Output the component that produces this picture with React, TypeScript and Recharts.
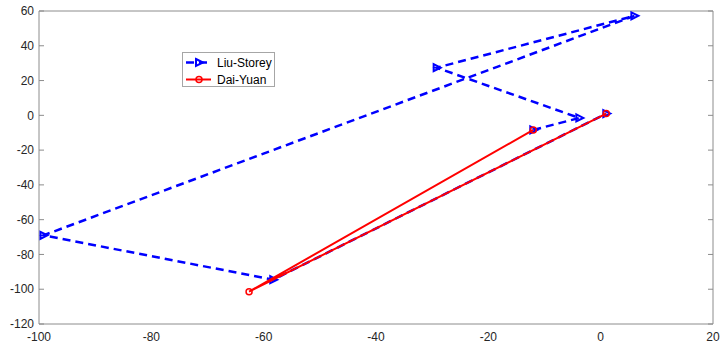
import {
  ScatterChart,
  Scatter,
  XAxis,
  YAxis,
  Legend,
} from 'recharts';

// iterates
const liuStoreyX = [-12, -3.8, -29.2, 6.0, -99.2, -58.3, 1];
const liuStoreyY = [-8.4, -1.5, 27.4, 57.2, -69.0, -94.5, 1];
const daiYuanX = [-12, -62.6, 1];
const daiYuanY = [-8.4, -101.4, 1];

const xTicks = [-100, -80, -60, -40, -20, 0, 20];
const yTicks = [-120, -100, -80, -60, -40, -20, 0, 20, 40, 60];

const liuStorey = liuStoreyX.map((x, i) => ({x, y: liuStoreyY[i]}));
const daiYuan = daiYuanX.map((x, i) => ({x, y: daiYuanY[i]}));

const BLUE = '#0000ff';
const RED = '#ff0000';
const AXIS = '#8c8c8c';
const FONT = '"Liberation Sans", Arial, sans-serif';

const TriangleMarker = (props: any) => {
  const {cx, cy} = props;
  if (cx == null || cy == null) return null;
  return (
    <polygon
      points={`${cx - 3},${cy - 3.5} ${cx + 4},${cy} ${cx - 3},${cy + 3.5}`}
      fill="none"
      stroke={BLUE}
      strokeWidth={2}
    />
  );
};

const CircleMarker = (props: any) => {
  const {cx, cy} = props;
  if (cx == null || cy == null) return null;
  return <circle cx={cx} cy={cy} r={3} fill="none" stroke={RED} strokeWidth={1.5} />;
};

const renderLegend = () => (
  <svg width={93} height={35} style={{display: 'block'}}>
    <rect x={0.5} y={0.5} width={92} height={34} fill="#fff" stroke="#a6a6a6" />
    <line x1={4} x2={29} y1={10.5} y2={10.5} stroke={BLUE} strokeWidth={2.5} strokeDasharray="8 5" />
    <TriangleMarker cx={17} cy={10.5} />
    <text x={35} y={14.5} fontSize={12} fontFamily={FONT} fill="#000">
      Liu-Storey
    </text>
    <line x1={4} x2={29} y1={27.5} y2={27.5} stroke={RED} strokeWidth={2} />
    <CircleMarker cx={17} cy={27.5} />
    <text x={35} y={31.5} fontSize={12} fontFamily={FONT} fill="#000">
      Dai-Yuan
    </text>
  </svg>
);

const blank = () => '';

export default function App() {
  return (
    <div style={{position: 'absolute', left: 0, top: 0, background: '#fff'}}>
      <ScatterChart
        width={721}
        height={349}
        margin={{top: 11, right: 8, bottom: 0, left: 0}}
      >
        {/* labelled axes */}
        <XAxis
          xAxisId={0}
          type="number"
          dataKey="x"
          domain={[-100, 20]}
          ticks={xTicks}
          allowDataOverflow
          height={25}
          tickLine={false}
          tickSize={0}
          tickMargin={8}
          axisLine={{stroke: AXIS}}
          tick={{fontSize: 12, fill: '#262626', fontFamily: FONT}}
        />
        <YAxis
          yAxisId={0}
          type="number"
          dataKey="y"
          domain={[-120, 60]}
          ticks={yTicks}
          allowDataOverflow
          width={39}
          tickLine={false}
          tickSize={0}
          tickMargin={5}
          axisLine={{stroke: AXIS}}
          tick={{fontSize: 12, fill: '#262626', fontFamily: FONT}}
        />
        {/* inward tick marks + box, matlab style */}
        <XAxis
          xAxisId="bIn"
          type="number"
          domain={[-100, 20]}
          ticks={xTicks}
          allowDataOverflow
          mirror
          axisLine={false}
          tickSize={5}
          tickLine={{stroke: AXIS}}
          tickFormatter={blank}
        />
        <XAxis
          xAxisId="top"
          orientation="top"
          type="number"
          domain={[-100, 20]}
          ticks={xTicks}
          allowDataOverflow
          mirror
          axisLine={{stroke: AXIS}}
          tickSize={5}
          tickLine={{stroke: AXIS}}
          tickFormatter={blank}
        />
        <YAxis
          yAxisId="lIn"
          type="number"
          domain={[-120, 60]}
          ticks={yTicks}
          allowDataOverflow
          mirror
          axisLine={false}
          tickSize={5}
          tickLine={{stroke: AXIS}}
          tickFormatter={blank}
        />
        <YAxis
          yAxisId="right"
          orientation="right"
          type="number"
          domain={[-120, 60]}
          ticks={yTicks}
          allowDataOverflow
          mirror
          axisLine={{stroke: AXIS}}
          tickSize={5}
          tickLine={{stroke: AXIS}}
          tickFormatter={blank}
        />
        <Legend
          layout="vertical"
          align="center"
          verticalAlign="middle"
          content={renderLegend}
          wrapperStyle={{position: 'absolute', left: 182, top: 52, width: 93, height: 35}}
        />
        <Scatter
          name="Liu-Storey"
          data={liuStorey}
          fill={BLUE}
          line={{stroke: BLUE, strokeWidth: 2.5, strokeDasharray: '8 5'}}
          lineType="joint"
          shape={TriangleMarker}
          isAnimationActive={false}
        />
        <Scatter
          name="Dai-Yuan"
          data={daiYuan}
          fill={RED}
          line={{stroke: RED, strokeWidth: 2}}
          lineType="joint"
          shape={CircleMarker}
          isAnimationActive={false}
        />
      </ScatterChart>
    </div>
  );
}
